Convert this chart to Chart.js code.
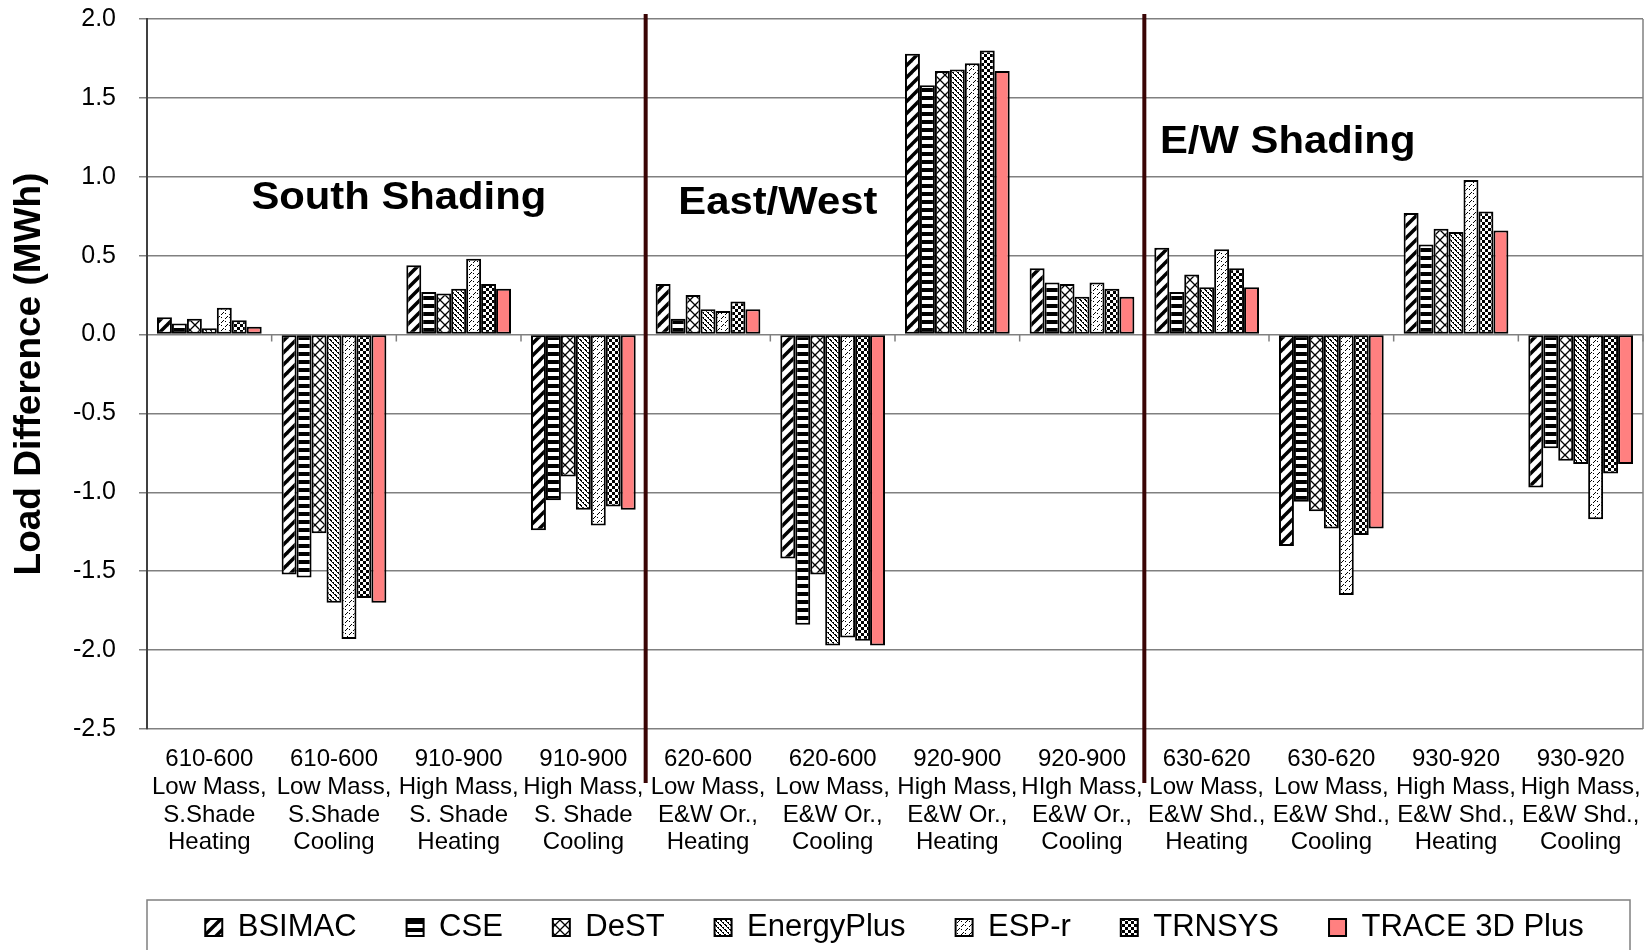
<!DOCTYPE html>
<html>
<head>
<meta charset="utf-8">
<script src="https://cdn.jsdelivr.net/npm/chart.js@4.4.1/dist/chart.umd.min.js"></script>
<style>
    html, body { margin: 0; padding: 0; background: #fff; }
    #wrap { width: 1647px; height: 950px; position: relative; }
</style>
</head>
<body>
<div id="wrap"><canvas id="myChart"></canvas></div>
<script>
// Test cases (x axis labels, one line per entry)
const categories = [
    ['610-600', 'Low Mass,', 'S.Shade', 'Heating'],
    ['610-600', 'Low Mass,', 'S.Shade', 'Cooling'],
    ['910-900', 'High Mass,', 'S. Shade', 'Heating'],
    ['910-900', 'High Mass,', 'S. Shade', 'Cooling'],
    ['620-600', 'Low Mass,', 'E&W Or.,', 'Heating'],
    ['620-600', 'Low Mass,', 'E&W Or.,', 'Cooling'],
    ['920-900', 'High Mass,', 'E&W Or.,', 'Heating'],
    ['920-900', 'HIgh Mass,', 'E&W Or.,', 'Cooling'],
    ['630-620', 'Low Mass,', 'E&W Shd.,', 'Heating'],
    ['630-620', 'Low Mass,', 'E&W Shd.,', 'Cooling'],
    ['930-920', 'High Mass,', 'E&W Shd.,', 'Heating'],
    ['930-920', 'High Mass,', 'E&W Shd.,', 'Cooling']
];

const programs = ['BSIMAC', 'CSE', 'DeST', 'EnergyPlus', 'ESP-r', 'TRNSYS', 'TRACE 3D Plus'];

// Load difference (MWh)
const bsimac     = [0.11, -1.52, 0.44, -1.24, 0.32, -1.42, 1.78, 0.42, 0.55, -1.34, 0.77, -0.97];
const cse        = [0.07, -1.54, 0.27, -1.05, 0.10, -1.84, 1.58, 0.33, 0.27, -1.06, 0.57, -0.72];
const dest       = [0.10, -1.26, 0.26, -0.90, 0.25, -1.52, 1.67, 0.32, 0.38, -1.12, 0.67, -0.80];
const energyPlus = [0.04, -1.70, 0.29, -1.11, 0.16, -1.97, 1.68, 0.24, 0.30, -1.23, 0.65, -0.82];
const espr       = [0.17, -1.93, 0.48, -1.21, 0.15, -1.92, 1.72, 0.33, 0.54, -1.65, 0.98, -1.17];
const trnsys     = [0.09, -1.67, 0.32, -1.09, 0.21, -1.94, 1.80, 0.29, 0.42, -1.27, 0.78, -0.88];
const trace      = [0.05, -1.70, 0.29, -1.11, 0.16, -1.97, 1.67, 0.24, 0.30, -1.23, 0.66, -0.82];

const yMin = -2.5;
const yMax = 2.0;
const yStep = 0.5;

// Section headings and the last category of each section
const sectionTitles = ['South Shading', 'East/West', 'E/W Shading'];
const sectionEnds = [3, 7];

document.addEventListener('DOMContentLoaded', () => {
    const chartCanvas = document.getElementById('myChart');
    const mainCtx = chartCanvas.getContext('2d');

    // Black & white fill patterns, like the old Excel ones
    function makePattern(size, paint) {
        const c = document.createElement('canvas');
        c.width = size;
        c.height = size;
        const g = c.getContext('2d');
        g.fillStyle = '#fff';
        g.fillRect(0, 0, size, size);
        g.fillStyle = '#000';
        g.strokeStyle = '#000';
        paint(g, size);
        return mainCtx.createPattern(c, 'repeat');
    }

    const fills = [
        // wide diagonal stripes
        makePattern(12, (g, s) => {
            g.lineWidth = 3.5;
            for (const k of [-s, 0, s]) {
                g.beginPath();
                g.moveTo(k - 1, s + 1);
                g.lineTo(k + s + 1, -1);
                g.stroke();
            }
        }),
        // horizontal bars
        makePattern(8, (g, s) => {
            g.fillRect(0, 0, s, 4);
        }),
        // diagonal cross hatch
        makePattern(10, (g, s) => {
            g.lineWidth = 1.3;
            for (const k of [-s, 0, s]) {
                g.beginPath();
                g.moveTo(k, 0); g.lineTo(k + s, s);
                g.moveTo(k, s); g.lineTo(k + s, 0);
                g.stroke();
            }
        }),
        // thin back-slash lines
        makePattern(5, (g, s) => {
            for (let i = 0; i < s; i++) {
                g.fillRect(i, i, 1, 1);
                if (i % 2 === 0) g.fillRect((i + 1) % s, i, 1, 1);
            }
        }),
        // sparse dashed forward slash
        makePattern(8, (g, s) => {
            for (let i = 0; i < s; i++) {
                if (i % 4 !== 3) g.fillRect(s - 1 - i, i, 1, 1);
            }
            g.fillRect(1, 1, 1, 1);
            g.fillRect(5, 5, 1, 1);
        }),
        // small checkerboard
        makePattern(6, (g, s) => {
            g.fillRect(0, 0, 3, 3);
            g.fillRect(3, 3, 3, 3);
        }),
        '#ff8080'
    ];

    const series = [bsimac, cse, dest, energyPlus, espr, trnsys, trace];

    const datasets = programs.map((name, i) => ({
        label: name,
        data: series[i],
        backgroundColor: fills[i],
        borderColor: '#000',
        borderWidth: 2,
        borderSkipped: false,
        barPercentage: 1.0,
        categoryPercentage: 0.84
    }));

    // Extra drawing: plot frame, zero-line ticks, section dividers and headings
    const decorations = {
        id: 'decorations',
        afterLayout(chart) {
            // legend sits centred under the plot rather than the canvas
            chart.legend.left += 73;
            chart.legend.right += 73;
        },
        afterDatasetsDraw(chart) {
            const { ctx, chartArea, scales: { x, y } } = chart;
            const y0 = y.getPixelForValue(0);
            ctx.save();

            // right frame line
            ctx.strokeStyle = '#808080';
            ctx.lineWidth = 1.5;
            ctx.beginPath();
            ctx.moveTo(chartArea.right, chartArea.top);
            ctx.lineTo(chartArea.right, chartArea.bottom);
            ctx.stroke();

            // little ticks on the zero line between categories
            ctx.beginPath();
            for (let i = 1; i <= categories.length; i++) {
                const px = i < categories.length
                    ? (x.getPixelForValue(i - 1) + x.getPixelForValue(i)) / 2
                    : chartArea.right;
                ctx.moveTo(px, y0);
                ctx.lineTo(px, y0 + 7);
            }
            ctx.stroke();

            // section dividers
            ctx.strokeStyle = '#3a0505';
            ctx.lineWidth = 4;
            sectionEnds.forEach(i => {
                const px = (x.getPixelForValue(i) + x.getPixelForValue(i + 1)) / 2;
                ctx.beginPath();
                ctx.moveTo(px, chartArea.top - 5);
                ctx.lineTo(px, chartArea.bottom + 54);
                ctx.stroke();
            });

            // section headings (positions in category index / MWh)
            const spots = [[1.52, 0.86], [4.56, 0.83], [8.65, 1.22]];
            ctx.fillStyle = '#000';
            ctx.font = 'bold 38px "Liberation Sans", Arial, sans-serif';
            ctx.textAlign = 'center';
            ctx.textBaseline = 'middle';
            sectionTitles.forEach((t, i) => {
                const px = x.getPixelForValue(0) + spots[i][0] * (x.getPixelForValue(1) - x.getPixelForValue(0));
                const py = y.getPixelForValue(spots[i][1]);
                ctx.save();
                ctx.translate(px, py);
                ctx.scale(1.1, 1);
                ctx.fillText(t, 0, 0);
                ctx.restore();
            });

            ctx.restore();
        },
        afterDraw(chart) {
            // frame around the legend
            const lg = chart.legend;
            const { ctx, chartArea } = chart;
            ctx.save();
            ctx.strokeStyle = '#808080';
            ctx.lineWidth = 1.5;
            ctx.strokeRect(chartArea.left, lg.top + 38, 1630 - chartArea.left, 100);
            ctx.restore();
        }
    };

    Chart.defaults.font.family = '"Liberation Sans", Arial, sans-serif';
    Chart.defaults.color = '#000';

    new Chart(chartCanvas, {
        type: 'bar',
        data: {
            labels: categories,
            datasets: datasets
        },
        options: {
            responsive: true,
            maintainAspectRatio: false,
            animation: false,
            layout: {
                padding: { top: 19, right: 4, bottom: -3, left: 0 }
            },
            scales: {
                x: {
                    grid: { display: false },
                    border: { display: false },
                    ticks: {
                        font: { size: 24, lineHeight: 1.15 },
                        color: '#000',
                        padding: 9,
                        maxRotation: 0,
                        autoSkip: false
                    },
                    afterFit: (scale) => {
                        scale.height = 133;
                        scale.paddingLeft = 0;
                        scale.paddingRight = 0;
                    }
                },
                y: {
                    min: yMin,
                    max: yMax,
                    ticks: {
                        stepSize: yStep,
                        font: { size: 25 },
                        color: '#000',
                        padding: 23,
                        callback: (v) => v.toFixed(1)
                    },
                    grid: {
                        color: '#808080',
                        lineWidth: 1.5,
                        tickLength: 8
                    },
                    border: { color: '#404040', width: 2 },
                    title: {
                        display: true,
                        text: 'Load Difference (MWh)',
                        font: { size: 37, weight: 'bold' },
                        color: '#000',
                        padding: { top: 8, bottom: 0 }
                    },
                    afterFit: (scale) => {
                        scale.width = 147;
                        scale.paddingTop = 0;
                        scale.paddingBottom = 0;
                    }
                }
            },
            plugins: {
                legend: {
                    display: true,
                    position: 'bottom',
                    labels: {
                        boxWidth: 17,
                        boxHeight: 17,
                        padding: 50,
                        color: '#000',
                        font: { size: 31 }
                    }
                },
                tooltip: { enabled: false }
            }
        },
        plugins: [decorations]
    });
});
</script>
</body>
</html>
